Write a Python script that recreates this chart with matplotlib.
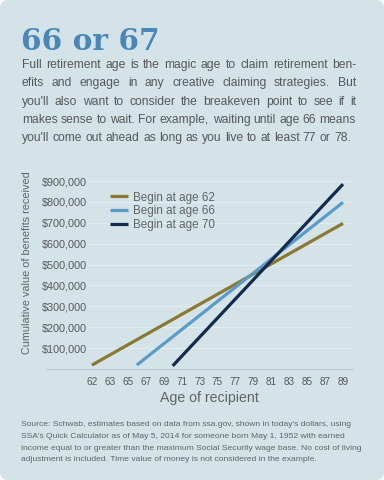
import numpy as np
import matplotlib
matplotlib.use("Agg")
import matplotlib.pyplot as plt
from matplotlib.patches import FancyBboxPatch
from matplotlib.lines import Line2D
from matplotlib.transforms import IdentityTransform

W, H = 384, 480

# chart data
tick_ages = [62, 63, 65, 67, 69, 71, 73, 75, 77, 79, 81, 83, 85, 87, 89]
series_labels = ["Begin at age 62", "Begin at age 66", "Begin at age 70"]
series_ages = [[62, 89], [66, 89], [70, 89]]
series_values = [[19000, 697000], [19000, 798000], [15000, 885000]]
series_colors = ["#8a7833", "#5b9bc9", "#13294d"]
y_ticks = [100000, 200000, 300000, 400000, 500000, 600000, 700000, 800000, 900000]

title = "66 or 67"
body_lines = [
    "Full retirement age is the magic age to claim retirement ben-",
    "efits and engage in any creative claiming strategies. But",
    "you'll also want to consider the breakeven point to see if it",
    "makes sense to wait. For example, waiting until age 66 means",
    "you'll come out ahead as long as you live to at least 77 or 78.",
]
source_lines = [
    "Source: Schwab, estimates based on data from ssa.gov, shown in today's dollars, using",
    "SSA's Quick Calculator as of May 5, 2014 for someone born May 1, 1952 with earned",
    "income equal to or greater than the maximum Social Security wage base. No cost of living",
    "adjustment is included. Time value of money is not considered in the example.",
]

BG = "#d3e3e7"
TEXT = "#56595b"
SANS = "Liberation Sans"


def fx(x):
    return x / W


def fy(y):
    return 1 - y / H


def draw_justified(fig, renderer, line, x0, x1, y, justify=True, **kw):
    words = line.split(" ")
    texts = [fig.text(0, fy(y), w, va="center", ha="left", **kw) for w in words]
    widths = [t.get_window_extent(renderer).width for t in texts]
    if justify and len(words) > 1:
        gap = (x1 - x0 - sum(widths)) / (len(words) - 1)
    else:
        space = fig.text(0, 0, "a a", **kw)
        single = fig.text(0, 0, "aa", **kw)
        gap = space.get_window_extent(renderer).width - single.get_window_extent(renderer).width
        space.remove()
        single.remove()
    x = x0
    for t, w in zip(texts, widths):
        t.set_x(fx(x))
        x += w + gap


def main():
    fig = plt.figure(figsize=(W / 100, H / 100), dpi=100)
    fig.patch.set_facecolor("white")
    fig.patches.append(FancyBboxPatch((0, 0), W, H, boxstyle="round,pad=0,rounding_size=8",
                                      facecolor=BG, edgecolor="none", zorder=-10,
                                      transform=IdentityTransform(), figure=fig))
    renderer = fig.canvas.get_renderer()

    fig.text(fx(21), fy(50), title, family="DejaVu Serif", weight="bold",
             fontsize=21.3, color="#4a87b8", va="baseline")

    for i, line in enumerate(body_lines):
        draw_justified(fig, renderer, line, 22, 356, 65 + 18.3 * i,
                       justify=i < len(body_lines) - 1,
                       family=SANS, fontsize=8.7, color=TEXT)

    for i, line in enumerate(source_lines):
        fig.text(fx(21), fy(425 + 11.5 * i), line, family=SANS,
                 fontsize=6.1, color="#606567", va="center")

    # chart
    ax = fig.add_axes([fx(88), fy(369), (352 - 88) / W, (369 - 181) / H])
    ax.set_facecolor("none")
    slots = np.arange(len(tick_ages))
    for ages, vals, color, label in zip(series_ages, series_values, series_colors, series_labels):
        xs = np.interp(ages, tick_ages, slots)
        ax.plot(xs, vals, color=color, lw=2.3, label=label, solid_capstyle="butt")

    ax.set_xlim((88 - 92) / 17.93, (352 - 92) / 17.93)
    ax.set_ylim(0, 900000)
    ax.set_xticks(slots)
    ax.set_xticklabels([str(a) for a in tick_ages], family=SANS, fontsize=7.2, color=TEXT)
    ax.set_yticks(y_ticks)
    ax.set_yticklabels([f"${v:,.0f}" for v in y_ticks], family=SANS,
                       fontsize=7.8, color=TEXT)
    ax.tick_params(axis="x", length=0, pad=6)
    ax.tick_params(axis="y", length=0, pad=1)
    ax.yaxis.grid(True, color="#e2edf0", lw=0.8)
    ax.set_axisbelow(True)
    for s in ax.spines.values():
        s.set_visible(False)
    fig.lines.append(Line2D([fx(47), fx(352)], [fy(369), fy(369)], color="#b7c7cb",
                            lw=0.8, transform=fig.transFigure, figure=fig))

    leg = ax.legend(loc="upper left", bbox_to_anchor=(fx(110), fy(191.5)),
                    bbox_transform=fig.transFigure, frameon=False, borderpad=0,
                    borderaxespad=0, handlelength=1.5, handletextpad=0.45,
                    labelspacing=0.15, prop={"family": SANS, "size": 8.4})
    for t in leg.get_texts():
        t.set_color("#606466")

    fig.text(fx(27), fy(263), "Cumulative value of benefits received", rotation=90,
             family=SANS, fontsize=7.8, color="#606466", va="center", ha="center")
    fig.text(fx(209), fy(398), "Age of recipient", family=SANS,
             fontsize=10.2, color="#606466", va="center", ha="center")

    fig.savefig("out.png", dpi=100, facecolor=fig.get_facecolor())


if __name__ == "__main__":
    main()
